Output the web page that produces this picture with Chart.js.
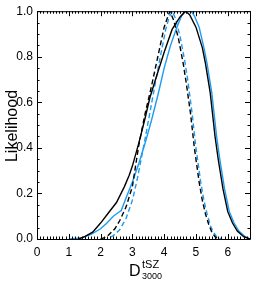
<!DOCTYPE html>
<html>
<head>
<meta charset="utf-8">
<script src="https://cdn.jsdelivr.net/npm/chart.js@4"></script>
<style>
html, body { margin: 0; padding: 0; background: #fff; }
canvas { display: block; }
</style>
</head>
<body>
<canvas id="likeChart" width="269" height="285"></canvas>
<script>
// black solid curve
const blackSolidX = [1.3, 1.5, 1.75, 2.0, 2.25, 2.5, 2.75, 2.9, 3.0, 3.2, 3.4, 3.55, 3.75, 4.0, 4.25, 4.5, 4.67, 4.8, 5.0, 5.2, 5.3, 5.45, 5.6, 5.7, 5.85, 6.0, 6.15, 6.3, 6.5, 6.7];
const blackSolidY = [0.0, 0.01, 0.03, 0.07, 0.115, 0.16, 0.23, 0.28, 0.32, 0.42, 0.53, 0.62, 0.71, 0.82, 0.92, 0.975, 1.0, 0.985, 0.93, 0.84, 0.77, 0.64, 0.45, 0.35, 0.22, 0.12, 0.07, 0.035, 0.01, 0.0];
// blue solid curve
const blueSolidX = [1.0, 1.4, 1.7, 2.0, 2.2, 2.4, 2.55, 2.65, 2.8, 3.0, 3.2, 3.4, 3.6, 3.8, 4.0, 4.2, 4.4, 4.55, 4.67, 4.85, 4.95, 5.1, 5.25, 5.35, 5.5, 5.65, 5.75, 5.9, 6.05, 6.2, 6.35, 6.55, 6.7];
const blueSolidY = [0.0, 0.005, 0.02, 0.045, 0.07, 0.1, 0.115, 0.125, 0.18, 0.25, 0.33, 0.42, 0.52, 0.63, 0.75, 0.85, 0.93, 0.98, 1.0, 1.0, 0.98, 0.93, 0.84, 0.77, 0.64, 0.45, 0.35, 0.22, 0.12, 0.07, 0.035, 0.01, 0.0];
// black dashed curve
const blackDashX = [2.0, 2.2, 2.45, 2.6, 2.8, 3.0, 3.2, 3.4, 3.6, 3.8, 4.0, 4.1, 4.18, 4.3, 4.45, 4.6, 4.7, 4.83, 4.95, 5.0, 5.1, 5.2, 5.3, 5.4, 5.5, 5.6, 5.7];
const blackDashY = [0.0, 0.01, 0.045, 0.08, 0.14, 0.23, 0.41, 0.55, 0.67, 0.8, 0.93, 0.97, 1.0, 0.96, 0.88, 0.77, 0.68, 0.55, 0.4, 0.35, 0.25, 0.17, 0.11, 0.065, 0.03, 0.01, 0.0];
// blue dashed curve
const blueDashX = [2.2, 2.4, 2.6, 2.8, 3.0, 3.15, 3.4, 3.65, 3.85, 4.05, 4.15, 4.25, 4.35, 4.5, 4.65, 4.75, 4.88, 5.0, 5.05, 5.15, 5.25, 5.35, 5.45, 5.55, 5.65, 5.8];
const blueDashY = [0.0, 0.015, 0.04, 0.09, 0.17, 0.26, 0.44, 0.63, 0.78, 0.92, 0.97, 1.0, 0.97, 0.89, 0.78, 0.69, 0.55, 0.4, 0.35, 0.25, 0.17, 0.11, 0.06, 0.03, 0.01, 0.0];

const xTickValues = [0, 1, 2, 3, 4, 5, 6];
const yTickValues = [0.0, 0.2, 0.4, 0.6, 0.8, 1.0];

const BLUE = '#1b9cf2';

function pts(xs, ys) {
  return xs.map((x, i) => ({ x: x, y: ys[i] }));
}

// box with inward major/minor ticks on all four sides, plus axis titles
const frameTicks = {
  id: 'frameTicks',
  afterDraw(chart) {
    const ctx = chart.ctx;
    const a = chart.chartArea;
    const sx = chart.scales.x, sy = chart.scales.y;
    ctx.save();
    ctx.strokeStyle = '#000';
    ctx.lineWidth = 1;
    ctx.beginPath();
    ctx.rect(a.left + 0.5, a.top + 0.5, a.right - a.left, a.bottom - a.top);
    ctx.stroke();
    ctx.beginPath();
    for (let i = 0; i <= 67; i++) {
      const px = Math.round(sx.getPixelForValue(i / 10)) + 0.5;
      const len = i % 10 === 0 ? 5 : 2.5;
      ctx.moveTo(px, a.bottom); ctx.lineTo(px, a.bottom - len);
      ctx.moveTo(px, a.top); ctx.lineTo(px, a.top + len);
    }
    for (let i = 0; i <= 20; i++) {
      const py = Math.round(sy.getPixelForValue(i * 0.05)) + 0.5;
      const len = i % 4 === 0 ? 5 : 2.5;
      ctx.moveTo(a.left, py); ctx.lineTo(a.left + len, py);
      ctx.moveTo(a.right, py); ctx.lineTo(a.right - len, py);
    }
    ctx.stroke();

    ctx.fillStyle = '#000';
    ctx.textBaseline = 'alphabetic';
    ctx.textAlign = 'left';
    ctx.font = '16px "Liberation Sans", Arial, sans-serif';
    ctx.fillText('D', 129, 276);
    ctx.font = '11px "Liberation Sans", Arial, sans-serif';
    ctx.fillText('tSZ', 142, 268);
    ctx.font = '9px "Liberation Sans", Arial, sans-serif';
    ctx.fillText('3000', 142, 279);

    ctx.translate(13, 126);
    ctx.rotate(-Math.PI / 2);
    ctx.textAlign = 'center';
    ctx.textBaseline = 'middle';
    ctx.font = '16px "Liberation Sans", Arial, sans-serif';
    ctx.fillText('Likelihood', 0, 0);
    ctx.restore();
  }
};

const ctx = document.getElementById('likeChart');
const likeChart = new Chart(ctx, {
  type: 'line',
  data: {
    datasets: [
      { data: pts(blackSolidX, blackSolidY), borderColor: '#000', borderWidth: 1.4 },
      { data: pts(blackDashX, blackDashY), borderColor: '#000', borderWidth: 1.4, borderDash: [5, 3] },
      { data: pts(blueSolidX, blueSolidY), borderColor: BLUE, borderWidth: 1.4 },
      { data: pts(blueDashX, blueDashY), borderColor: BLUE, borderWidth: 1.4, borderDash: [5, 3], borderDashOffset: 4 }
    ]
  },
  options: {
    responsive: false,
    animation: false,
    devicePixelRatio: 1,
    layout: { padding: { top: 5, right: 19, left: 0, bottom: 0 } },
    elements: {
      point: { radius: 0 },
      line: { tension: 0, fill: false }
    },
    plugins: {
      legend: { display: false },
      tooltip: { enabled: false }
    },
    scales: {
      x: {
        type: 'linear',
        min: 0,
        max: 6.7,
        grid: { display: false, drawTicks: false },
        border: { display: false },
        afterBuildTicks: s => { s.ticks = xTickValues.map(v => ({ value: v })); },
        afterFit: s => { s.height = 46; },
        ticks: {
          color: '#000',
          padding: 6,
          maxRotation: 0,
          font: { family: '"Liberation Sans", Arial, sans-serif', size: 12 },
          callback: v => String(v)
        }
      },
      y: {
        type: 'linear',
        min: 0,
        max: 1,
        grid: { display: false, drawTicks: false },
        border: { display: false },
        afterBuildTicks: s => { s.ticks = yTickValues.map(v => ({ value: v })); },
        afterFit: s => { s.width = 37; },
        ticks: {
          color: '#000',
          padding: 4,
          font: { family: '"Liberation Sans", Arial, sans-serif', size: 12 },
          callback: v => Number(v).toFixed(1)
        }
      }
    }
  },
  plugins: [frameTicks]
});
</script>
</body>
</html>
